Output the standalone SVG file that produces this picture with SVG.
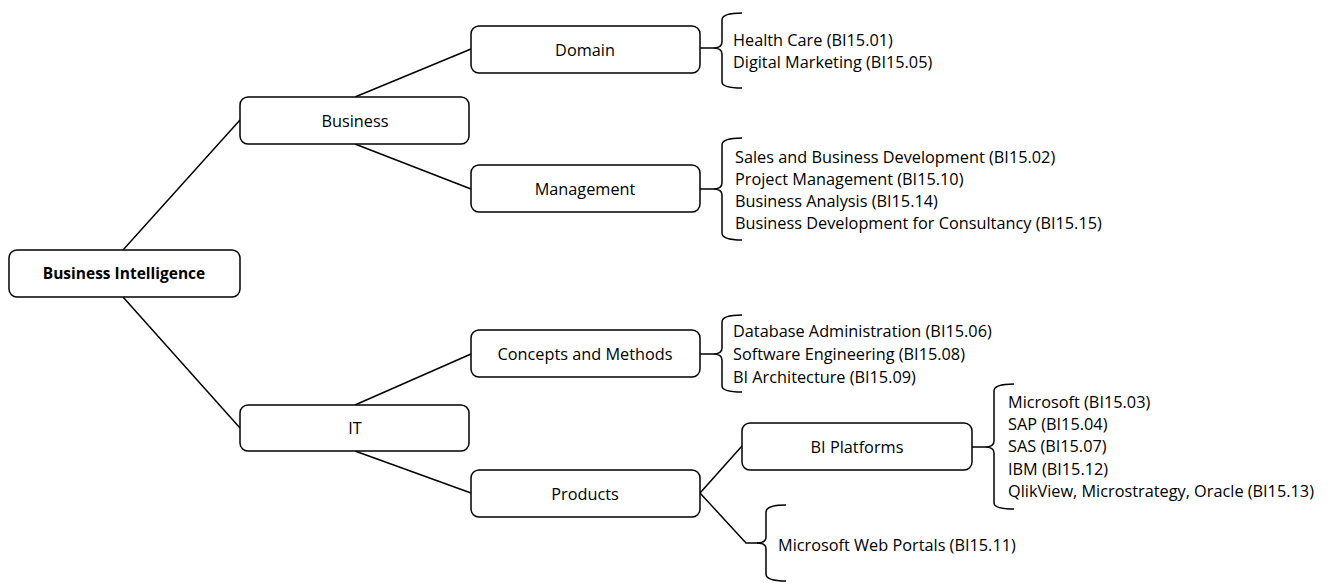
<svg xmlns="http://www.w3.org/2000/svg" width="1331" height="583" viewBox="0 0 1331 583">
  <style>
    .box { fill: #ffffff; stroke: #000000; stroke-width: 1.5; }
    .lbl { font-family: "Open Sans", "Liberation Sans", Arial, sans-serif; font-size: 16.3px; fill: #000000; text-anchor: middle; }
    .root { font-weight: bold; font-size: 15.5px; }
    .item { font-family: "Open Sans", "Liberation Sans", Arial, sans-serif; font-size: 16.3px; fill: #000000; }
    .edge { fill: none; stroke: #000000; stroke-width: 1.5; }
  </style>

  <!-- connectors -->
  <g id="connectors">
    <line class="edge" x1="123" y1="250" x2="240" y2="120"/>
    <line class="edge" x1="123" y1="297" x2="240" y2="428"/>
    <line class="edge" x1="355" y1="97" x2="471" y2="49"/>
    <line class="edge" x1="355" y1="144" x2="471" y2="189"/>
    <line class="edge" x1="355" y1="405" x2="471" y2="354"/>
    <line class="edge" x1="355" y1="451" x2="471" y2="493"/>
    <line class="edge" x1="700" y1="493" x2="742" y2="446"/>
    <polyline class="edge" points="700,493 746,543 758,543"/>
    <!-- braces -->
    <path class="edge" d="M700 48 L713 48 Q722 48 722 42 L722 20 Q722 13 742 13 M713 48 Q722 48 722 54 L722 82 Q722 88 742 88"/>
    <path class="edge" d="M700 189 L713 189 Q722 189 722 183 L722 145 Q722 138 742 138 M713 189 Q722 189 722 195 L722 233 Q722 240 742 240"/>
    <path class="edge" d="M700 354 L713 354 Q722 354 722 348 L722 322 Q722 315 742 315 M713 354 Q722 354 722 360 L722 386 Q722 392 742 392"/>
    <path class="edge" d="M972 447 L985 447 Q994 447 994 441 L994 391 Q994 384 1014 384 M985 447 Q994 447 994 453 L994 503 Q994 509 1014 509"/>
    <path class="edge" d="M757 543 Q766 543 766 537 L766 512 Q766 505 786 505 M757 543 Q766 543 766 549 L766 574 Q766 581 786 581"/>
  </g>

  <g id="node-bi">
    <rect class="box" x="9" y="250" width="231" height="47" rx="8"/>
    <text class="lbl root" x="124" y="279">Business Intelligence</text>
  </g>
  <g id="node-business">
    <rect class="box" x="240" y="97" width="229" height="47" rx="8"/>
    <text class="lbl" x="355" y="127">Business</text>
  </g>
  <g id="node-it">
    <rect class="box" x="240" y="405" width="229" height="46" rx="8"/>
    <text class="lbl" x="355" y="434">IT</text>
  </g>
  <g id="node-domain">
    <rect class="box" x="471" y="26" width="229" height="47" rx="8"/>
    <text class="lbl" x="585" y="56">Domain</text>
  </g>
  <g id="node-management">
    <rect class="box" x="471" y="165" width="229" height="47" rx="8"/>
    <text class="lbl" x="585" y="195">Management</text>
  </g>
  <g id="node-concepts">
    <rect class="box" x="471" y="330" width="229" height="47" rx="8"/>
    <text class="lbl" x="585" y="360">Concepts and Methods</text>
  </g>
  <g id="node-products">
    <rect class="box" x="471" y="470" width="229" height="47" rx="8"/>
    <text class="lbl" x="585" y="500">Products</text>
  </g>
  <g id="node-biplatforms">
    <rect class="box" x="742" y="423" width="230" height="47" rx="8"/>
    <text class="lbl" x="857" y="453">BI Platforms</text>
  </g>

  <g id="list-domain">
    <text class="item" x="733" y="46">Health Care (BI15.01)</text>
    <text class="item" x="733" y="68">Digital Marketing (BI15.05)</text>
  </g>
  <g id="list-management">
    <text class="item" x="735" y="163">Sales and Business Development (BI15.02)</text>
    <text class="item" x="735" y="185">Project Management (BI15.10)</text>
    <text class="item" x="735" y="207">Business Analysis (BI15.14)</text>
    <text class="item" x="735" y="229">Business Development for Consultancy (BI15.15)</text>
  </g>
  <g id="list-concepts">
    <text class="item" x="733" y="337">Database Administration (BI15.06)</text>
    <text class="item" x="733" y="360">Software Engineering (BI15.08)</text>
    <text class="item" x="733" y="383">BI Architecture (BI15.09)</text>
  </g>
  <g id="list-platforms">
    <text class="item" x="1008" y="408">Microsoft (BI15.03)</text>
    <text class="item" x="1008" y="430">SAP (BI15.04)</text>
    <text class="item" x="1008" y="452">SAS (BI15.07)</text>
    <text class="item" x="1008" y="475">IBM (BI15.12)</text>
    <text class="item" x="1008" y="497">QlikView, Microstrategy, Oracle (BI15.13)</text>
  </g>
  <g id="list-portals">
    <text class="item" x="778" y="551">Microsoft Web Portals (BI15.11)</text>
  </g>
</svg>
